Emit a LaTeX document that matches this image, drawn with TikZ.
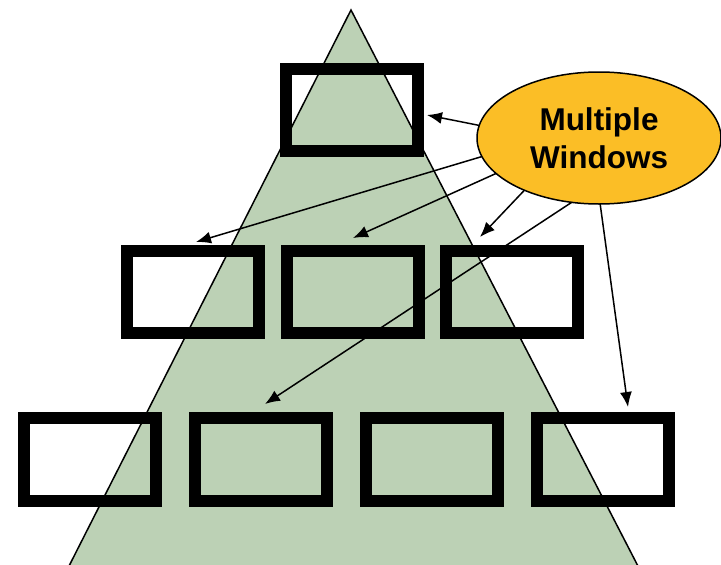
\documentclass[tikz,border=0pt]{standalone}
\usepackage{fontspec}
\setmainfont{Liberation Sans}
\usetikzlibrary{shapes.geometric,arrows.meta}
\definecolor{trigreen}{RGB}{188,209,181}
\definecolor{mwgold}{RGB}{251,190,38}
\begin{document}
\begin{tikzpicture}[x=1pt,y=-1pt,
  win/.style={draw=black,line width=12pt,minimum width=132pt,minimum height=82.5pt,inner sep=0pt,outer sep=0pt},
  ptr/.style={line width=1.5pt,-{Latex[length=15pt,width=12pt]}},
  bubble/.style={ellipse,draw=black,line width=1.5pt,fill=mwgold,minimum width=244pt,minimum height=132pt,inner sep=0pt,outer sep=0pt,align=center,font=\bfseries\fontsize{31.5}{38}\selectfont}]
\clip (0,0) rectangle (721,565);
\fill[white] (0,0) rectangle (721,565);
\filldraw[fill=trigreen,draw=black,line width=1.5pt] (351,10) -- (67,570) -- (640,570) -- cycle;
% windows
\node[win] (t1) at (351.5,110) {};
\node[win] (m1) at (192.5,292) {};
\node[win] (m2) at (352.5,292) {};
\node[win] (m3) at (512,292) {};
\node[win] (b1) at (89.5,459.5) {};
\node[win] (b2) at (260.6,459.5) {};
\node[win] (b3) at (431.7,459.5) {};
\node[win] (b4) at (602.8,459.5) {};
% arrow tips
\coordinate (p1) at (427,115);
\coordinate (p2) at (196,242);
\coordinate (p3) at (353,238);
\coordinate (p4) at (480,237);
\coordinate (p5) at (265,404);
\coordinate (p6) at (628,407);
\node[bubble] (mw) at (599,138) {Multiple\\Windows};
\draw[ptr] (mw.174.3) -- (p1);
\draw[ptr] (mw.189.1) -- (p2);
\draw[ptr] (mw.199.9) -- (p3);
\draw[ptr] (mw.215.4) -- (p4);
\draw[ptr] (mw.247.4) -- (p5);
\draw[ptr] (mw.271.7) -- (p6);
\end{tikzpicture}
\end{document}
